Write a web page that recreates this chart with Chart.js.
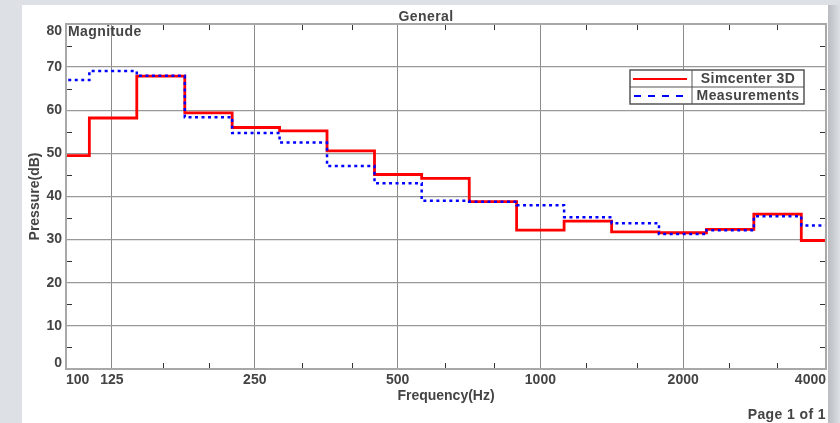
<!DOCTYPE html>
<html>
<head>
<meta charset="utf-8">
<script src="https://cdn.jsdelivr.net/npm/chart.js@4"></script>
<style>
  html, body { margin: 0; padding: 0; background: #dde1e5; overflow: hidden; }
  canvas { display: block; }
</style>
</head>
<body>
<canvas id="chart" width="840" height="423"></canvas>
<script>
// third-octave bands (Hz)
const bandCenters = [100, 125, 160, 200, 250, 315, 400, 500, 630, 800, 1000, 1250, 1600, 2000, 2500, 3150, 4000];
const bandEdges = [89.1, 112, 141, 178, 224, 282, 355, 447, 562, 708, 891, 1122, 1413, 1778, 2239, 2818, 3548, 4467];

// levels in dB, one per band
const simcenter = [49.5, 58.2, 67.9, 59.4, 56.0, 55.2, 50.6, 45.1, 44.2, 38.8, 32.2, 34.3, 31.8, 31.6, 32.4, 35.9, 29.8];
const measurements = [67.0, 69.1, 68.0, 58.4, 54.7, 52.5, 47.1, 43.1, 39.0, 38.8, 38.0, 35.2, 33.8, 31.3, 32.2, 35.4, 33.3];

const xTicks = [100, 125, 250, 500, 1000, 2000, 4000];
const xMinorTicks = [160, 200, 315, 400, 630, 800, 1250, 1600, 2500, 3150];
const yMinorTicks = [5, 15, 25, 35, 45, 55, 65, 75];

const FONT = '"Liberation Sans", Arial, sans-serif';
const TEXT = '#444444';

// band levels -> step points (lower edges + closing upper edge)
const toSteps = (values) => {
  const pts = values.map((v, i) => ({ x: bandEdges[i], y: v }));
  pts.push({ x: bandEdges[values.length], y: values[values.length - 1] });
  return pts;
};

// page background, frame, minor ticks, legend and extra labels
const decor = {
  id: 'decor',
  beforeDraw: (chart) => {
    const ctx = chart.ctx;
    ctx.save();
    ctx.fillStyle = '#dde1e5';
    ctx.fillRect(0, 0, 840, 423);
    ctx.fillStyle = '#ffffff';
    ctx.fillRect(22, 5, 806, 418);
    const g = ctx.createLinearGradient(828, 0, 840, 0);
    g.addColorStop(0, '#b9bdc1');
    g.addColorStop(1, '#dde1e5');
    ctx.fillStyle = g;
    ctx.fillRect(828, 5, 12, 418);
    ctx.restore();
  },
  beforeDatasetsDraw: (chart) => {
    const { ctx, chartArea: a, scales: { x, y } } = chart;
    ctx.save();
    ctx.strokeStyle = '#333333';
    ctx.lineWidth = 1;
    xMinorTicks.forEach((f) => {
      const px = Math.round(x.getPixelForValue(f)) + 0.5;
      ctx.beginPath();
      ctx.moveTo(px, a.top); ctx.lineTo(px, a.top + 6);
      ctx.moveTo(px, a.bottom); ctx.lineTo(px, a.bottom - 6);
      ctx.stroke();
    });
    yMinorTicks.forEach((v) => {
      const py = Math.round(y.getPixelForValue(v)) + 0.5;
      ctx.beginPath();
      ctx.moveTo(a.left, py); ctx.lineTo(a.left + 6, py);
      ctx.moveTo(a.right, py); ctx.lineTo(a.right - 6, py);
      ctx.stroke();
    });
    ctx.restore();
  },
  afterDatasetsDraw: (chart) => {
    const { ctx, chartArea: a } = chart;
    ctx.save();
    // plot frame
    ctx.strokeStyle = '#a8a8a8';
    ctx.lineWidth = 2;
    ctx.strokeRect(a.left, a.top, a.right - a.left, a.bottom - a.top);

    ctx.fillStyle = TEXT;
    ctx.font = 'bold 14px ' + FONT;
    ctx.textBaseline = 'middle';
    // end labels of the y axis sit inside the frame
    ctx.textAlign = 'right';
    ctx.fillText('80', a.left - 4, a.top + 7);
    ctx.fillText('0', a.left - 4, a.bottom - 6);

    ctx.letterSpacing = '0.4px';
    ctx.textAlign = 'left';
    ctx.fillText('Magnitude', a.left + 2, a.top + 8);
    ctx.textAlign = 'center';
    ctx.fillText('General', 426, 17);
    ctx.textAlign = 'right';
    ctx.fillText('Page 1 of 1', 826, 415);

    // legend table
    const lx = 630, ly = 70, lw = 174, lh = 34, div = 692;
    ctx.fillStyle = '#ffffff';
    ctx.fillRect(lx, ly, lw, lh);
    ctx.strokeStyle = '#555555';
    ctx.lineWidth = 1.5;
    ctx.strokeRect(lx, ly, lw, lh);
    ctx.lineWidth = 1;
    ctx.beginPath();
    ctx.moveTo(div, ly); ctx.lineTo(div, ly + lh);
    ctx.moveTo(lx, ly + lh / 2); ctx.lineTo(lx + lw, ly + lh / 2);
    ctx.stroke();
    ctx.lineWidth = 2;
    ctx.strokeStyle = '#ff0000';
    ctx.beginPath(); ctx.moveTo(633, ly + 9); ctx.lineTo(687, ly + 9); ctx.stroke();
    ctx.strokeStyle = '#0000ff';
    ctx.setLineDash([7, 7]);
    ctx.beginPath(); ctx.moveTo(634, ly + 26); ctx.lineTo(688, ly + 26); ctx.stroke();
    ctx.setLineDash([]);
    ctx.fillStyle = TEXT;
    ctx.textAlign = 'center';
    ctx.fillText('Simcenter 3D', 748, ly + 9);
    ctx.fillText('Measurements', 748, ly + 26);
    ctx.restore();
  }
};

const ctx = document.getElementById('chart').getContext('2d');

new Chart(ctx, {
  type: 'line',
  data: {
    datasets: [{
      label: 'Simcenter 3D',
      data: toSteps(simcenter),
      borderColor: '#ff0000',
      borderWidth: 2.8,
      stepped: true,
      pointRadius: 0,
      order: 2
    }, {
      label: 'Measurements',
      data: toSteps(measurements),
      borderColor: '#0000ff',
      borderWidth: 2.5,
      borderDash: [3, 3.5],
      stepped: true,
      pointRadius: 0,
      order: 1
    }]
  },
  options: {
    responsive: false,
    devicePixelRatio: 1,
    animation: false,
    layout: { padding: { left: 22, top: 24, right: 14, bottom: 0 } },
    plugins: {
      legend: { display: false },
      tooltip: { enabled: false }
    },
    scales: {
      x: {
        type: 'logarithmic',
        min: 100,
        max: 4000,
        afterBuildTicks: (s) => { s.ticks = xTicks.map((v) => ({ value: v })); },
        afterFit: (s) => { s.height = 54; },
        ticks: {
          align: 'inner',
          autoSkip: false,
          maxRotation: 0,
          padding: 3,
          color: TEXT,
          font: { family: FONT, size: 14, weight: 'bold' },
          callback: (v) => String(v)
        },
        grid: { color: '#8a8a8a', lineWidth: 1, drawTicks: false },
        border: { color: '#a8a8a8', width: 2 },
        title: {
          display: true,
          text: 'Frequency(Hz)',
          color: TEXT,
          font: { family: FONT, size: 14, weight: 'bold' },
          padding: { top: 0, bottom: 18 }
        }
      },
      y: {
        min: 0,
        max: 80,
        afterFit: (s) => { s.width = 44; },
        ticks: {
          stepSize: 10,
          padding: 4,
          // 0 and 80 are drawn by the decor plugin, nudged inside the frame
          color: (c) => (c.tick && (c.tick.value === 0 || c.tick.value === 80)) ? 'rgba(0,0,0,0)' : TEXT,
          font: { family: FONT, size: 14, weight: 'bold' }
        },
        grid: { color: '#999999', lineWidth: 1.3, drawTicks: false },
        border: { color: '#a8a8a8', width: 2 },
        title: {
          display: true,
          text: 'Pressure(dB)',
          color: TEXT,
          font: { family: FONT, size: 14, weight: 'bold' },
          padding: { top: 5, bottom: 0 }
        }
      }
    }
  },
  plugins: [decor]
});
</script>
</body>
</html>
